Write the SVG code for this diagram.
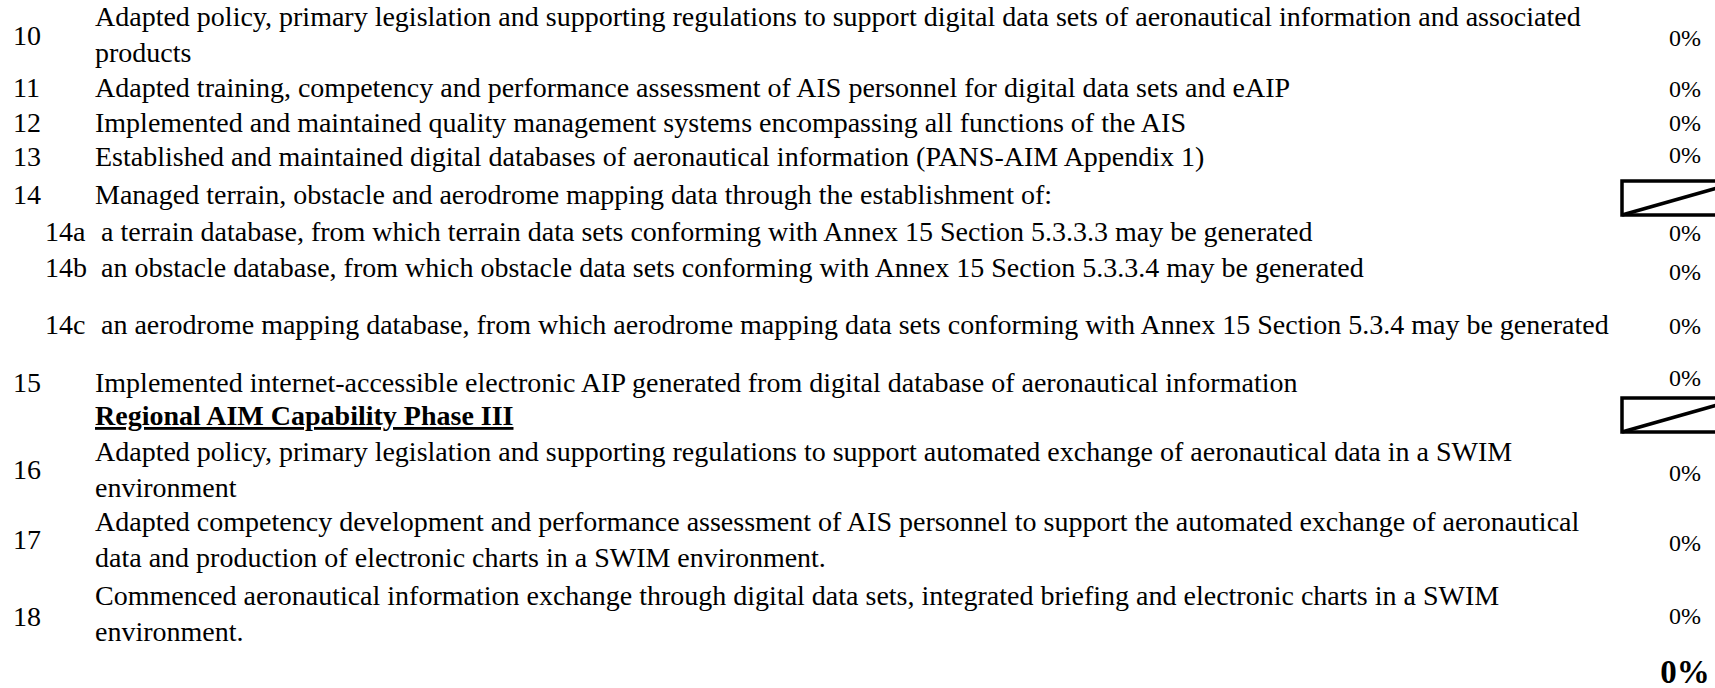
<svg xmlns="http://www.w3.org/2000/svg" width="1715" height="688" viewBox="0 0 1715 688">
<style>
text { font-family: "Liberation Serif", "Times New Roman", serif; fill: #000; }
.t { font-size: 28px; }
.n { font-size: 28px; }
.p { font-size: 24px; text-anchor: middle; }
.h { font-size: 28px; font-weight: bold; }
.tot { font-size: 33px; font-weight: bold; text-anchor: middle; }
.box { fill: #fff; stroke: #000; stroke-width: 3.5; }
.diag { stroke: #000; stroke-width: 3.5; fill: none; }
</style>
<rect x="0" y="0" width="1715" height="688" fill="#fff"/>

<g id="row-10">
<text class="n" x="13" y="45">10</text>
<text class="t" x="95" y="26">Adapted policy, primary legislation and supporting regulations to support digital data sets of aeronautical information and associated</text>
<text class="t" x="95" y="62">products</text>
<text class="p" x="1685" y="46">0%</text>
</g>
<g id="row-11">
<text class="n" x="13" y="97">11</text>
<text class="t" x="95" y="97">Adapted training, competency and performance assessment of AIS personnel for digital data sets and eAIP</text>
<text class="p" x="1685" y="97">0%</text>
</g>
<g id="row-12">
<text class="n" x="13" y="132">12</text>
<text class="t" x="95" y="132">Implemented and maintained quality management systems encompassing all functions of the AIS</text>
<text class="p" x="1685" y="131">0%</text>
</g>
<g id="row-13">
<text class="n" x="13" y="166">13</text>
<text class="t" x="95" y="166">Established and maintained digital databases of aeronautical information (PANS-AIM Appendix 1)</text>
<text class="p" x="1685" y="163">0%</text>
</g>
<g id="row-14">
<text class="n" x="13" y="204">14</text>
<text class="t" x="95" y="204">Managed terrain, obstacle and aerodrome mapping data through the establishment of:</text>
<rect class="box" x="1622" y="181" width="120" height="34"/>
<line class="diag" x1="1622" y1="215" x2="1742" y2="181"/>
</g>
<g id="row-14a">
<text class="n" x="45" y="241">14a</text>
<text class="t" x="101" y="241">a terrain database, from which terrain data sets conforming with Annex 15 Section 5.3.3.3 may be generated</text>
<text class="p" x="1685" y="241">0%</text>
</g>
<g id="row-14b">
<text class="n" x="45" y="277">14b</text>
<text class="t" x="101" y="277">an obstacle database, from which obstacle data sets conforming with Annex 15 Section 5.3.3.4 may be generated</text>
<text class="p" x="1685" y="280">0%</text>
</g>
<g id="row-14c">
<text class="n" x="45" y="334">14c</text>
<text class="t" x="101" y="334">an aerodrome mapping database, from which aerodrome mapping data sets conforming with Annex 15 Section 5.3.4 may be generated</text>
<text class="p" x="1685" y="334">0%</text>
</g>
<g id="row-15">
<text class="n" x="13" y="392">15</text>
<text class="t" x="95" y="392">Implemented internet-accessible electronic AIP generated from digital database of aeronautical information</text>
<text class="p" x="1685" y="386">0%</text>
</g>
<g id="header-phase-3">
<text class="h" x="95" y="425" text-decoration="underline">Regional AIM Capability Phase III</text>
<rect class="box" x="1622" y="398" width="120" height="34"/>
<line class="diag" x1="1622" y1="432" x2="1742" y2="398"/>
</g>
<g id="row-16">
<text class="n" x="13" y="479">16</text>
<text class="t" x="95" y="461">Adapted policy, primary legislation and supporting regulations to support automated exchange of aeronautical data in a SWIM</text>
<text class="t" x="95" y="497">environment</text>
<text class="p" x="1685" y="481">0%</text>
</g>
<g id="row-17">
<text class="n" x="13" y="549">17</text>
<text class="t" x="95" y="531">Adapted competency development and performance assessment of AIS personnel to support the automated exchange of aeronautical</text>
<text class="t" x="95" y="567">data and production of electronic charts in a SWIM environment.</text>
<text class="p" x="1685" y="551">0%</text>
</g>
<g id="row-18">
<text class="n" x="13" y="626">18</text>
<text class="t" x="95" y="605">Commenced aeronautical information exchange through digital data sets, integrated briefing and electronic charts in a SWIM</text>
<text class="t" x="95" y="641">environment.</text>
<text class="p" x="1685" y="624">0%</text>
</g>
<g id="total">
<text class="tot" x="1685" y="683">0%</text>
</g>
<g id="connectors"></g>
</svg>
